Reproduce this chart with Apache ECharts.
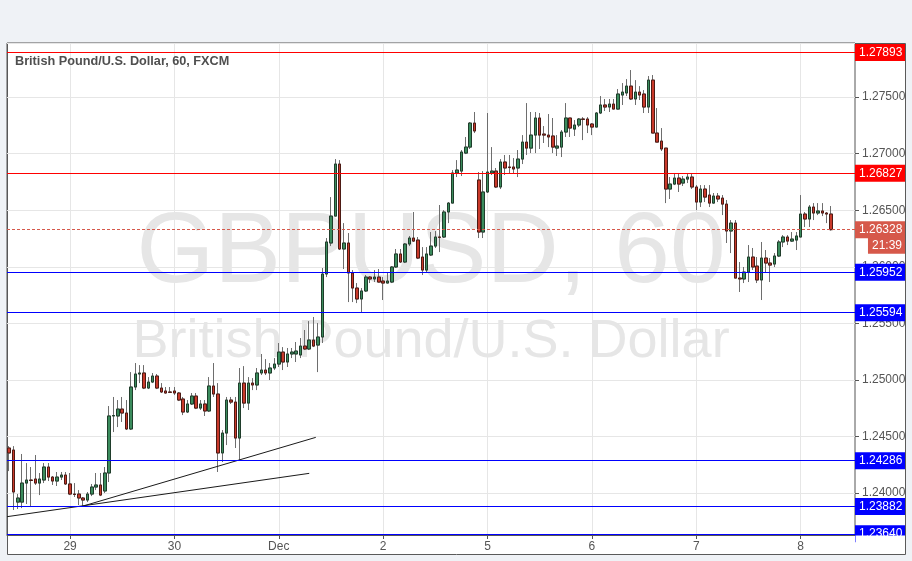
<!DOCTYPE html>
<html><head><meta charset="utf-8">
<script src="https://cdn.jsdelivr.net/npm/echarts@6/dist/echarts.min.js"></script>
<style>html,body{margin:0;padding:0;background:#eff2f6;}#c{width:912px;height:561px;}</style>
</head><body><div id="c"></div>
<script>
// ---- data ----
const sessionDays = ['Nov 28','Nov 29','Nov 30','Dec 1','Dec 2','Dec 4','Dec 5','Dec 6','Dec 7','Dec 8'];
const sessionFirstHour = [10,0,0,0,0,22,0,0,0,0];
const sessionLastHour = [23,23,23,23,21,23,23,23,23,12];
const dayTickLabels = {'Nov 29':'29','Nov 30':'30','Dec 1':'Dec','Dec 2':'2','Dec 5':'5','Dec 6':'6','Dec 7':'7','Dec 8':'8'};

const opens = [
1.24398,1.24380,1.23920,1.23920,1.24088,1.24115,1.24124,1.24088,1.24115,1.24230,
1.24141,1.24106,1.24141,1.24159,1.24080,1.23991,1.23991,1.23956,1.23938,1.23991,
1.24053,1.24071,1.24018,1.24177,1.24681,1.24681,1.24742,1.24707,1.24566,1.24937,
1.25052,1.25061,1.24928,1.24981,1.25034,1.24928,1.24902,1.24893,1.24902,1.24884,
1.24831,1.24716,1.24787,1.24857,1.24751,1.24787,1.24725,1.24946,1.24875,1.24354,
1.24530,1.24822,1.24804,1.24486,1.24972,1.24795,1.24972,1.24955,1.25061,1.25087,
1.25061,1.25105,1.25140,1.25246,1.25158,1.25229,1.25229,1.25220,1.25299,1.25273,
1.25352,1.25308,1.25379,1.25936,1.26210,1.26448,1.26908,1.26157,1.26210,1.25945,
1.25812,1.25715,1.25786,1.25909,1.25892,1.25909,1.25874,1.25856,1.25865,1.25998,
1.26113,1.26042,1.26201,1.26254,1.26236,1.26086,1.25971,1.26104,1.26183,1.26263,
1.26263,1.26484,1.26563,1.26829,1.26846,1.27005,1.27058,1.27270,1.26767,1.26307,
1.26661,1.26829,1.26846,1.26705,1.26926,1.26882,1.26882,1.26873,1.26952,1.27102,
1.27049,1.27164,1.27315,1.27173,1.27164,1.27156,1.27049,1.27058,1.27191,1.27315,
1.27217,1.27253,1.27306,1.27306,1.27262,1.27235,1.27359,1.27430,1.27412,1.27438,
1.27394,1.27518,1.27536,1.27597,1.27483,1.27544,1.27527,1.27412,1.27650,1.27182,
1.27111,1.27049,1.26687,1.26731,1.26784,1.26740,1.26775,1.26793,1.26705,1.26572,
1.26687,1.26634,1.26563,1.26625,1.26607,1.26554,1.26316,1.26386,1.25900,1.25892,
1.25953,1.26086,1.26006,1.25883,1.26077,1.26033,1.26024,1.26095,1.26219,1.26263,
1.26227,1.26236,1.26263,1.26466,1.26422,1.26528,1.26475,1.26493,1.26475,1.26466];
const highs = [
1.24415,1.24415,1.23991,1.24345,1.24265,1.24230,1.24336,1.24177,1.24265,1.24265,
1.24150,1.24186,1.24186,1.24186,1.24177,1.24088,1.24026,1.23965,1.24009,1.24080,
1.24177,1.24177,1.24230,1.24769,1.24849,1.24822,1.24849,1.24822,1.25069,1.25149,
1.25131,1.25131,1.25025,1.25061,1.25052,1.24972,1.24937,1.24937,1.24937,1.24893,
1.24849,1.24822,1.24884,1.24884,1.24822,1.24822,1.25025,1.25149,1.24972,1.24557,
1.24849,1.24849,1.24849,1.25105,1.25122,1.25025,1.25016,1.25105,1.25229,1.25184,
1.25149,1.25193,1.25326,1.25290,1.25282,1.25282,1.25335,1.25370,1.25441,1.25520,
1.25556,1.25503,1.25989,1.26254,1.26616,1.26952,1.26943,1.26386,1.26298,1.25971,
1.25856,1.25812,1.25927,1.25918,1.25971,1.25980,1.25909,1.25953,1.26006,1.26157,
1.26157,1.26210,1.26272,1.26484,1.26263,1.26174,1.26174,1.26307,1.26316,1.26546,
1.26501,1.26572,1.26855,1.26943,1.27032,1.27147,1.27279,1.27368,1.26837,1.26846,
1.27359,1.27058,1.26873,1.26952,1.26988,1.26988,1.26961,1.27032,1.27164,1.27447,
1.27368,1.27368,1.27359,1.27244,1.27350,1.27315,1.27164,1.27209,1.27447,1.27315,
1.27297,1.27315,1.27323,1.27323,1.27270,1.27368,1.27509,1.27483,1.27483,1.27483,
1.27571,1.27624,1.27659,1.27739,1.27650,1.27597,1.27562,1.27686,1.27695,1.27403,
1.27226,1.27049,1.26793,1.26829,1.26829,1.26802,1.26829,1.26829,1.26722,1.26722,
1.26722,1.26722,1.26652,1.26652,1.26634,1.26590,1.26413,1.26413,1.26042,1.25998,
1.26192,1.26166,1.26086,1.26219,1.26148,1.26077,1.26121,1.26236,1.26280,1.26280,
1.26307,1.26307,1.26634,1.26484,1.26546,1.26563,1.26563,1.26563,1.26484,1.26537];
const lows = [
1.24194,1.23850,1.23859,1.23867,1.23903,1.23876,1.24071,1.23982,1.24088,1.24106,
1.24071,1.24062,1.24115,1.24071,1.23982,1.23965,1.23894,1.23882,1.23920,1.23973,
1.24026,1.23973,1.24000,1.24097,1.24539,1.24583,1.24628,1.24557,1.24557,1.24910,
1.24972,1.24919,1.24919,1.24972,1.24919,1.24884,1.24880,1.24884,1.24866,1.24813,
1.24689,1.24707,1.24778,1.24742,1.24734,1.24681,1.24716,1.24849,1.24186,1.24274,
1.24424,1.24787,1.24398,1.24286,1.24751,1.24734,1.24910,1.24910,1.25043,1.25043,
1.24999,1.25087,1.25114,1.25087,1.25114,1.25193,1.25158,1.25193,1.25264,1.25264,
1.25290,1.25069,1.25326,1.25909,1.26183,1.26448,1.26148,1.25980,1.25688,1.25688,
1.25679,1.25594,1.25777,1.25856,1.25865,1.25861,1.25706,1.25856,1.25856,1.25989,
1.26033,1.26033,1.26183,1.26219,1.26068,1.25927,1.25953,1.26095,1.26166,1.26130,
1.26254,1.26386,1.26563,1.26793,1.26802,1.26996,1.27041,1.27182,1.26254,1.26254,
1.26652,1.26811,1.26696,1.26687,1.26811,1.26820,1.26829,1.26793,1.26908,1.26988,
1.27005,1.27005,1.27041,1.27094,1.27058,1.27005,1.26979,1.26970,1.27147,1.27147,
1.27156,1.27235,1.27120,1.27182,1.27164,1.27235,1.27350,1.27377,1.27368,1.27394,
1.27390,1.27430,1.27509,1.27474,1.27430,1.27474,1.27359,1.27359,1.27182,1.27102,
1.27023,1.26563,1.26599,1.26722,1.26661,1.26714,1.26740,1.26687,1.26501,1.26528,
1.26572,1.26528,1.26559,1.26572,1.26457,1.26210,1.26121,1.25900,1.25777,1.25856,
1.25865,1.25971,1.25856,1.25706,1.25945,1.25865,1.25998,1.26086,1.26174,1.26192,
1.26219,1.26148,1.26263,1.26351,1.26351,1.26413,1.26457,1.26448,1.26386,1.26320];
const closes = [
1.24354,1.24009,1.23956,1.24088,1.24115,1.24111,1.24088,1.24124,1.24230,1.24141,
1.24106,1.24141,1.24159,1.24080,1.23991,1.23987,1.23956,1.23938,1.23991,1.24053,
1.24071,1.23982,1.24177,1.24681,1.24685,1.24742,1.24707,1.24566,1.24937,1.25052,
1.25061,1.24928,1.24981,1.25034,1.24928,1.24893,1.24884,1.24890,1.24884,1.24822,
1.24716,1.24787,1.24857,1.24751,1.24787,1.24725,1.24946,1.24875,1.24354,1.24530,
1.24822,1.24804,1.24486,1.24972,1.24795,1.24972,1.24955,1.25061,1.25087,1.25061,
1.25105,1.25140,1.25246,1.25158,1.25229,1.25246,1.25255,1.25299,1.25273,1.25352,
1.25299,1.25379,1.25936,1.26219,1.26448,1.26908,1.26157,1.26210,1.25945,1.25812,
1.25715,1.25786,1.25909,1.25892,1.25909,1.25865,1.25856,1.25874,1.25998,1.26113,
1.26042,1.26201,1.26254,1.26227,1.26077,1.25971,1.26113,1.26183,1.26263,1.26260,
1.26484,1.26563,1.26829,1.26855,1.27014,1.27058,1.27270,1.27200,1.26307,1.26661,
1.26837,1.26846,1.26705,1.26926,1.26873,1.26877,1.26864,1.26952,1.27102,1.27049,
1.27164,1.27315,1.27164,1.27164,1.27147,1.27058,1.27067,1.27191,1.27315,1.27226,
1.27253,1.27306,1.27303,1.27253,1.27235,1.27359,1.27430,1.27412,1.27438,1.27394,
1.27527,1.27544,1.27597,1.27483,1.27544,1.27518,1.27412,1.27650,1.27182,1.27102,
1.27041,1.26687,1.26731,1.26784,1.26731,1.26775,1.26793,1.26705,1.26572,1.26687,
1.26616,1.26563,1.26625,1.26599,1.26554,1.26316,1.26386,1.25900,1.25892,1.25953,
1.26086,1.25998,1.25883,1.26077,1.26033,1.26015,1.26095,1.26219,1.26263,1.26227,
1.26245,1.26272,1.26466,1.26422,1.26528,1.26475,1.26493,1.26475,1.26466,1.26328];

const redLevels = [1.27893, 1.26827];
const blueLevels = [1.25952, 1.25594, 1.24286, 1.23882, 1.23640];
const lastPrice = 1.26328;
const countdownText = '21:39';
// trend lines: [half-slot index, price]
const trendA = [[0, 1.23791], [139, 1.24174]];
const trendB = [[35, 1.23885], [142, 1.24492]];
const yMin = 1.23629, yMax = 1.27978, yStep = 0.005;
const titleText = 'British Pound/U.S. Dollar, 60, FXCM';
const watermark1 = 'GBPUSD, 60';
const watermark2 = 'British Pound/U.S. Dollar';

// ---- build ----
const slots = [];
sessionDays.forEach((d, k) => {
  for (let h = sessionFirstHour[k]; h <= sessionLastHour[k]; h++) slots.push({day: d, hour: h});
});
const slotNames = slots.map(s => s.day + ' ' + String(s.hour).padStart(2, '0') + ':00');
const halfNames = [];
for (let j = 0; j <= 2 * slots.length; j++) halfNames.push(String(j));
const halfLabels = {};
slots.forEach((s, i) => { if (s.hour === 0 && dayTickLabels[s.day]) halfLabels[String(2 * i + 1)] = dayTickLabels[s.day]; });
const isDayTick = (idx, val) => halfLabels[val] !== undefined;

const fullData = opens.map((o, i) => [o, closes[i], lows[i], highs[i]]);
const bodyData = opens.map((o, i) => [o, closes[i], Math.min(o, closes[i]), Math.max(o, closes[i])]);

const FONT = '"Liberation Sans", Arial, sans-serif';
function levelSeries(v, color, dashed) {
  return {
    type: 'line', xAxisIndex: 0, yAxisIndex: 0, data: [], silent: true, z: 6,
    markLine: {
      silent: true, symbol: ['none', 'none'], animation: false, precision: 5, z: 6,
      lineStyle: {color: color, width: 1, type: dashed ? [3, 2] : 'solid'},
      label: {show: true, position: 'end', distance: 0, formatter: v.toFixed(5),
        backgroundColor: color, color: '#fff', padding: [2, 3, 2, 4], width: 43,
        fontSize: 12, lineHeight: 13, fontFamily: FONT},
      emphasis: {disabled: true},
      data: [{yAxis: v}]
    }
  };
}
const levelSeriesList = []
  .concat(redLevels.map(v => levelSeries(v, '#ff0000', false)))
  .concat(blueLevels.map(v => levelSeries(v, '#0000ff', false)))
  .concat([levelSeries(lastPrice, '#d6584a', true)]);

const chart = echarts.init(document.getElementById('c'), null, {renderer: 'canvas'});
const option = {
  animation: false,
  backgroundColor: '#eff2f6',
  textStyle: {fontFamily: FONT},
  grid: {left: 7, right: 57, top: 43, bottom: 26, show: true, borderColor: '#555', borderWidth: 1, backgroundColor: 'transparent'},
  xAxis: [
    {type: 'category', data: slotNames, boundaryGap: true, show: false, position: 'bottom'},
    {type: 'category', data: halfNames, boundaryGap: false, position: 'bottom',
      axisLine: {show: true, lineStyle: {color: '#555', width: 1}},
      axisTick: {show: true, interval: isDayTick, length: 4, lineStyle: {color: '#555'}},
      axisLabel: {interval: isDayTick, formatter: v => halfLabels[v] || '', color: '#555', fontSize: 12, margin: 6, fontFamily: FONT},
      splitLine: {show: true, interval: isDayTick, lineStyle: {color: '#e6e6e6', width: 1}}
    }
  ],
  yAxis: {
    type: 'value', position: 'right', min: yMin, max: yMax, scale: true,
    splitNumber: 9, minInterval: yStep, maxInterval: yStep,
    axisLine: {show: false},
    axisTick: {show: true, length: 4, lineStyle: {color: '#555'}},
    axisLabel: {formatter: v => v.toFixed(5), color: '#555', fontSize: 12, margin: 7, fontFamily: FONT, showMinLabel: false, showMaxLabel: false},
    splitLine: {show: true, lineStyle: {color: '#e6e6e6', width: 1}}
  },
  series: [
    {type: 'candlestick', name: 'wicks', xAxisIndex: 0, yAxisIndex: 0, data: fullData, barWidth: 3,
      silent: true, z: 2,
      itemStyle: {color: 'rgba(0,0,0,0)', color0: 'rgba(0,0,0,0)', borderColor: '#6e6e6e', borderColor0: '#6e6e6e', borderColorDoji: '#6e6e6e', borderWidth: 1}},
    {type: 'candlestick', name: 'bodies', xAxisIndex: 0, yAxisIndex: 0, data: bodyData, barWidth: 3,
      silent: true, z: 3,
      itemStyle: {color: '#3b8c5d', color0: '#c9392a', borderColor: '#1f3d2b', borderColor0: '#4d1a14', borderColorDoji: '#4d1a14', borderWidth: 1}},
    {type: 'line', name: 'trendA', xAxisIndex: 1, yAxisIndex: 0, data: trendA, showSymbol: false, silent: true, z: 4,
      lineStyle: {color: '#1a1a1a', width: 1}},
    {type: 'line', name: 'trendB', xAxisIndex: 1, yAxisIndex: 0, data: trendB, showSymbol: false, silent: true, z: 4,
      lineStyle: {color: '#1a1a1a', width: 1}}
  ].concat(levelSeriesList),
  graphic: [
    {type: 'rect', z: -10, silent: true, shape: {x: 7.5, y: 43.5, width: 898, height: 511}, style: {fill: '#ffffff', stroke: '#5a5a5a', lineWidth: 1}},
    {type: 'text', z: -5, silent: true, style: {text: watermark1, x: 431, y: 254, align: 'center', verticalAlign: 'middle', font: 'normal 100px ' + FONT, fill: '#e6e6e6'}},
    {type: 'text', z: -5, silent: true, style: {text: watermark2, x: 431, y: 342, align: 'center', verticalAlign: 'middle', font: 'normal 54px ' + FONT, fill: '#e6e6e6'}},
    {type: 'text', z: 50, silent: true, style: {text: titleText, x: 15, y: 61, align: 'left', verticalAlign: 'middle', font: 'bold 12.7px ' + FONT, fill: '#4f4f4f'}},
    {type: 'rect', z: 100, silent: true, shape: {x: 855.5, y: 535.5, width: 49.5, height: 18.5}, style: {fill: '#ffffff'}}
  ]
};
chart.setOption(option);

const py = chart.convertToPixel({yAxisIndex: 0}, lastPrice);
chart.setOption({graphic: option.graphic.concat([
  {type: 'text', z: 60, silent: true, style: {text: countdownText, x: 905, y: py + 16, align: 'right', verticalAlign: 'middle',
    font: 'normal 12px ' + FONT, fill: '#fff', backgroundColor: '#d6584a', padding: [2, 3, 1, 4], lineHeight: 13}}
])});
</script></body></html>
